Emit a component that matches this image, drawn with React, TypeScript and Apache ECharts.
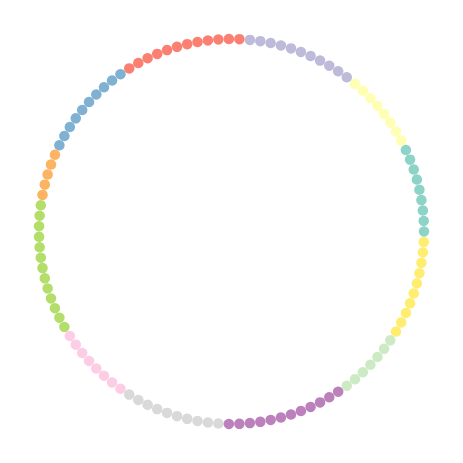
import React, { useEffect, useRef } from "react";
import * as echarts from "echarts";

const groupColors = [
  "#8dd3c7", "#ffffb3", "#bebada", "#fb8072", "#80b1d3", "#fdb462",
  "#b3de69", "#fccde5", "#d9d9d9", "#bc80bd", "#ccebc5", "#ffed6f",
];
const groupCounts = [9, 8, 11, 12, 10, 5, 13, 8, 10, 12, 7, 10];

export default function App() {
  const ref = useRef<HTMLDivElement>(null);
  useEffect(() => {
    if (!ref.current) return;
    const chart = echarts.init(ref.current, undefined, { renderer: "svg" });
    const total = groupCounts.reduce((a, b) => a + b, 0);
    const points: any[] = [];
    let idx = 0;
    groupCounts.forEach((c, g) => {
      for (let k = 0; k < c; k++) {
        points.push({ value: [1, idx], itemStyle: { color: groupColors[g], opacity: 1 } });
        idx++;
      }
    });
    chart.setOption({
      animation: false,
      polar: { center: ["50%", "50%"], radius: 192.5 },
      angleAxis: {
        type: "value",
        min: 0,
        max: total,
        startAngle: 0,
        clockwise: false,
        show: false,
      },
      radiusAxis: { type: "value", min: 0, max: 1, show: false },
      series: [
        {
          type: "scatter",
          coordinateSystem: "polar",
          symbol: "circle",
          symbolSize: 10.5,
          itemStyle: { opacity: 1 },
          data: points,
        },
      ],
    });
    return () => chart.dispose();
  }, []);
  return (
    <div
      ref={ref}
      style={{ position: "fixed", left: 0, top: 0, width: 463, height: 463, background: "#fff" }}
    />
  );
}
